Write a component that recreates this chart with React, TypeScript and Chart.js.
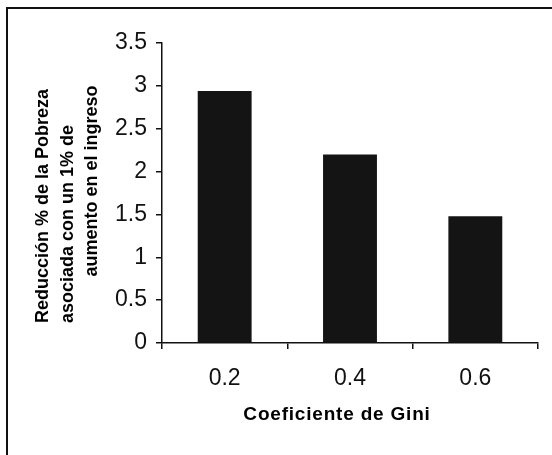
import React, { useEffect, useRef } from "react";
import { Chart, registerables } from "chart.js";

Chart.register(...registerables);

const categories = ["0.2", "0.4", "0.6"];
const reduction = [2.94, 2.2, 1.48];
const yMin = 0;
const yMax = 3.5;
const yStep = 0.5;
const xTitle = "Coeficiente de Gini";
const yTitleLines = ["Reducción % de la Pobreza", "asociada con un 1% de", "aumento en el ingreso"];

const FONT = "'Liberation Sans', Arial, sans-serif";

const framePlugin = {
  id: "frame",
  beforeDraw(chart: any) {
    const ctx = chart.ctx;
    ctx.save();
    ctx.fillStyle = "#ffffff";
    ctx.fillRect(0, 0, chart.width, chart.height);
    ctx.strokeStyle = "#111";
    ctx.lineWidth = 2;
    ctx.beginPath();
    ctx.moveTo(7, chart.height);
    ctx.lineTo(7, 8);
    ctx.lineTo(chart.width, 8);
    ctx.stroke();
    ctx.restore();
  },
  afterDraw(chart: any) {
    const ctx = chart.ctx;
    ctx.save();
    ctx.fillStyle = "#000";
    ctx.textAlign = "center";
    ctx.textBaseline = "middle";
    ctx.font = `bold 19px ${FONT}`;
    (ctx as any).letterSpacing = "0.8px";
    ctx.fillText(xTitle, 337, 415);
    (ctx as any).letterSpacing = "0px";
    ctx.font = `bold 18px ${FONT}`;
    const xs = [43, 68, 92];
    const ys = [206, 224, 181];
    yTitleLines.forEach((line, i) => {
      ctx.save();
      ctx.translate(xs[i], ys[i]);
      ctx.rotate(-Math.PI / 2);
      ctx.fillText(line, 0, 0);
      ctx.restore();
    });
    ctx.restore();
  },
};

export default function App() {
  const ref = useRef<HTMLCanvasElement>(null);
  useEffect(() => {
    document.body.style.margin = "0";
    const chart = new Chart(ref.current!, {
      type: "bar",
      data: {
        labels: categories,
        datasets: [
          {
            data: reduction,
            backgroundColor: "#141414",
            borderWidth: 0,
            barPercentage: 0.43,
            categoryPercentage: 1,
          },
        ],
      },
      options: {
        responsive: false,
        animation: false,
        layout: { padding: { left: 0, top: 43, right: 14, bottom: 0 } },
        plugins: { legend: { display: false }, tooltip: { enabled: false } },
        scales: {
          x: {
            offset: true,
            grid: {
              offset: true,
              drawOnChartArea: false,
              drawTicks: true,
              tickLength: 6,
              color: "#111",
              lineWidth: 1.5,
            },
            border: { color: "#111", width: 1.5 },
            ticks: { color: "#111", font: { family: FONT, size: 23 }, padding: 16 },
            afterFit(scale: any) {
              scale.height = 112;
            },
          },
          y: {
            min: yMin,
            max: yMax,
            grid: {
              drawOnChartArea: false,
              drawTicks: true,
              tickLength: 6,
              color: "#111",
              lineWidth: 1.5,
            },
            border: { color: "#111", width: 1.5 },
            ticks: {
              stepSize: yStep,
              color: "#111",
              font: { family: FONT, size: 23 },
              padding: 9,
              callback: (v: any) => String(Number(v)),
            },
            afterFit(scale: any) {
              scale.width = 162;
            },
          },
        },
      },
      plugins: [framePlugin],
    });
    return () => chart.destroy();
  }, []);
  return <canvas ref={ref} width={552} height={455} style={{ display: "block" }} />;
}
